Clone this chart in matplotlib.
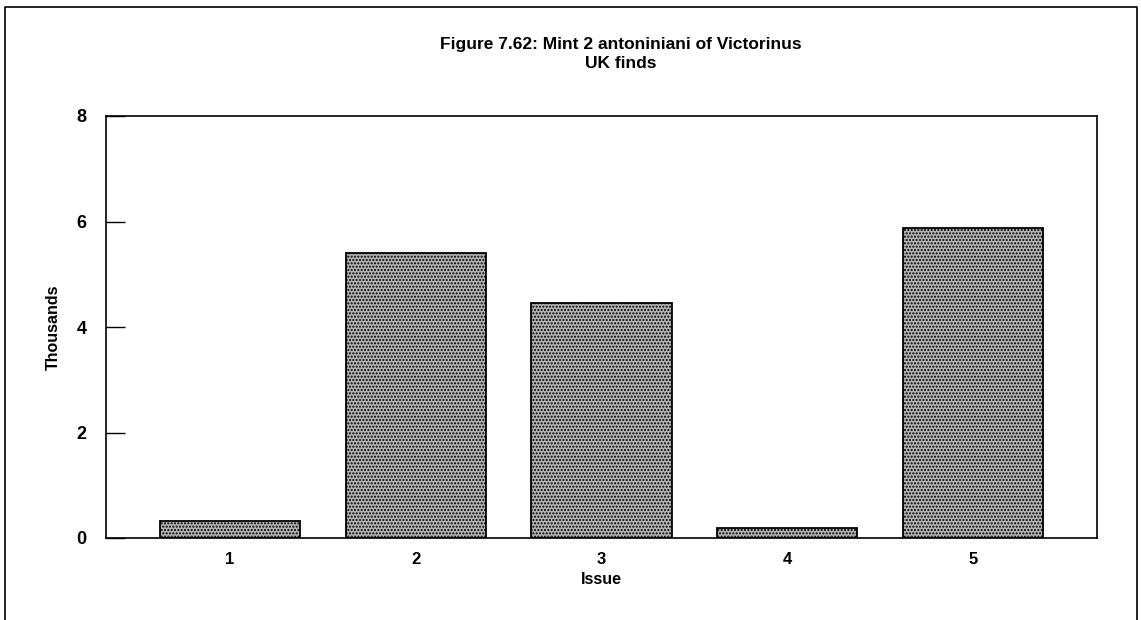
import matplotlib.pyplot as plt
from matplotlib.lines import Line2D

issues = ['1', '2', '3', '4', '5']
thousands = [0.33, 5.40, 4.45, 0.19, 5.88]
y_ticks = [0, 2, 4, 6, 8]

plt.rcParams['font.family'] = ['Liberation Sans', 'DejaVu Sans']
plt.rcParams['hatch.color'] = '#6a6a6a'

fig = plt.figure(figsize=(11.41, 6.2), dpi=100)
W, H = 1141, 620
# plot area in pixels: left 106, right 1097, top 116, bottom 538
ax = fig.add_axes([106 / W, 1 - 538 / H, (1097 - 106) / W, (538 - 116) / H])

x = range(1, len(issues) + 1)
ax.bar(x, thousands, width=0.755, color='#b4b4b4', edgecolor='black',
       linewidth=1.3, hatch='.....')

ax.set_xlim(0.332, 5.668)
ax.set_ylim(0, 8)
ax.set_xticks(list(x))
ax.set_xticklabels(issues, fontsize=12, fontweight='bold')
ax.set_yticks(y_ticks)
ax.set_yticklabels([str(t) for t in y_ticks], fontsize=13, fontweight='bold')
ax.tick_params(axis='x', length=0, pad=10)
ax.tick_params(axis='y', direction='in', length=14, width=1, pad=14)
for s in ax.spines.values():
    s.set_linewidth(1.2)

ax.set_xlabel('Issue', fontsize=11.5, fontweight='bold', labelpad=4)
ax.set_ylabel('Thousands', fontsize=11.5, fontweight='bold', labelpad=11)

fig.text(621 / W, 1 - 45 / H, 'Figure 7.62: Mint 2 antoniniani of Victorinus',
         ha='center', va='center', fontsize=12.5, fontweight='bold')
fig.text(621 / W, 1 - 64 / H, 'UK finds',
         ha='center', va='center', fontsize=12.5, fontweight='bold')

# outer frame
fx = [5 / W, 5 / W, 1137 / W, 1137 / W]
fy = [0, 1 - 7 / H, 1 - 7 / H, 0]
fig.add_artist(Line2D(fx, fy, color='black', linewidth=1.2, transform=fig.transFigure))

fig.savefig('out.png', dpi=100, facecolor='white')
